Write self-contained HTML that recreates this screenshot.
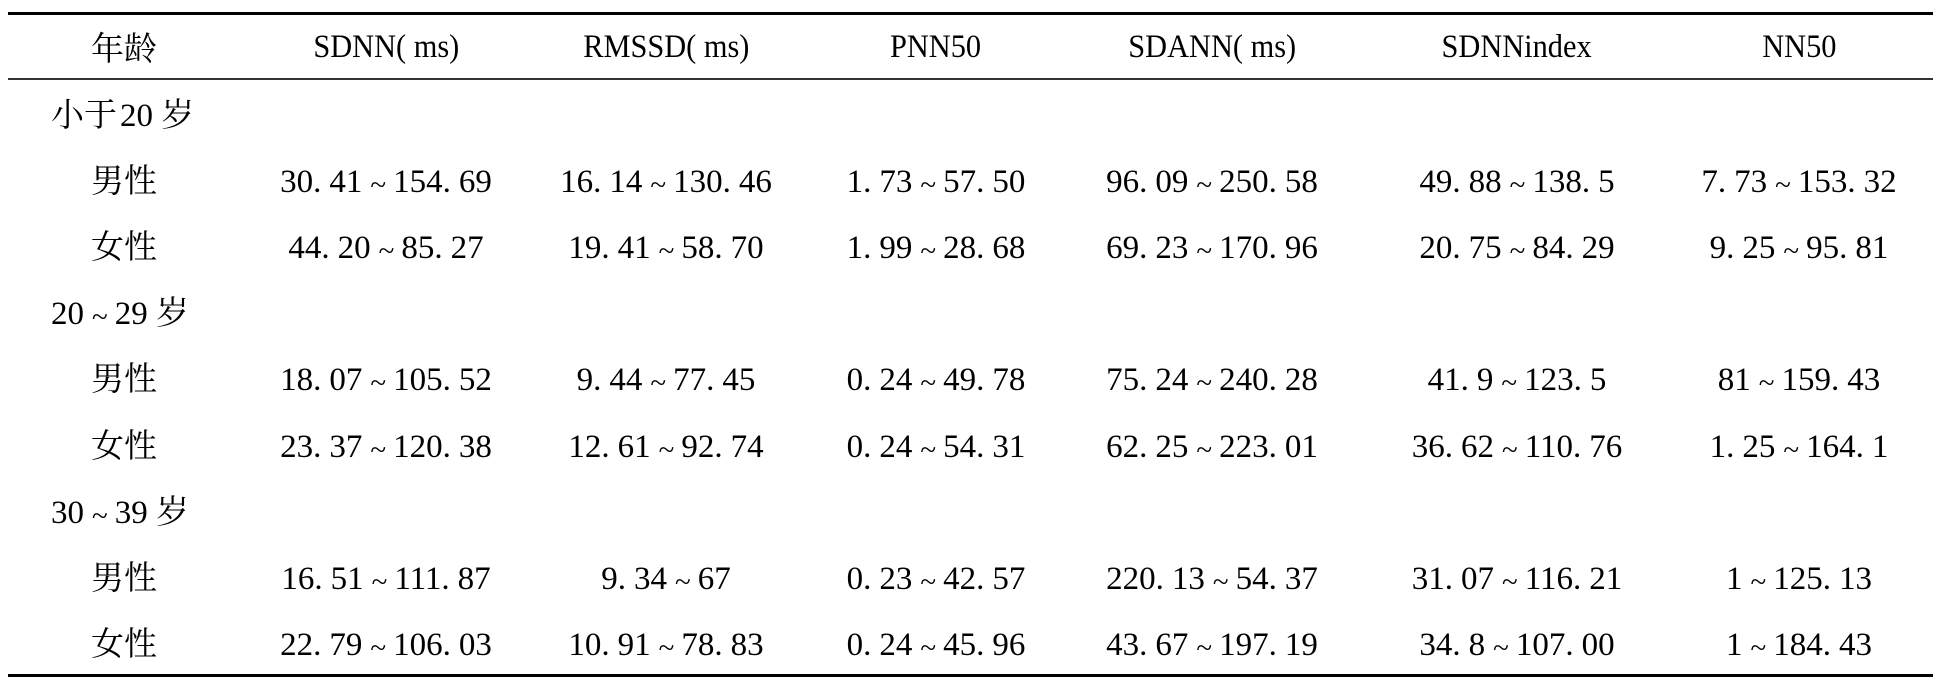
<!DOCTYPE html>
<html>
<head>
<meta charset="utf-8">
<style>
html,body{margin:0;padding:0;background:#fff;}
body{width:1956px;height:687px;position:relative;overflow:hidden;
 font-family:"Liberation Serif","Noto Serif CJK SC","Noto Sans CJK SC",serif;color:#000;font-size:33px;}
.line{position:absolute;left:8px;width:1925px;background:#000;}
.c{position:absolute;width:340px;margin-left:-170px;text-align:center;height:40px;line-height:40px;white-space:nowrap;}
.h span{display:inline-block;transform:scaleX(0.92);transform-origin:50% 50%;}
.g{position:absolute;left:51px;height:40px;line-height:40px;white-space:nowrap;}
.p{padding-right:8px;}
.t{padding:0 7px 0 8px;font-size:29px;position:relative;top:2px;}
.s{padding-left:3px;}
</style>
</head>
<body>
<div class="line" style="top:12px;height:3px;"></div>
<div class="line" style="top:78px;height:2px;background:#333;"></div>
<div class="line" style="top:674px;height:3px;"></div>

<!-- header -->
<div class="c" style="left:124px;top:30px;">年龄</div>
<div class="c h" style="left:386px;top:26.5px;"><span>SDNN( ms)</span></div>
<div class="c h" style="left:666px;top:26.5px;"><span>RMSSD( ms)</span></div>
<div class="c h" style="left:936px;top:26.5px;"><span>PNN50</span></div>
<div class="c h" style="left:1212px;top:26.5px;"><span>SDANN( ms)</span></div>
<div class="c h" style="left:1517px;top:26.5px;"><span>SDNNindex</span></div>
<div class="c h" style="left:1799px;top:26.5px;"><span>NN50</span></div>

<!-- group 1 -->
<div class="g" style="top:95.5px;">小于<span class="s">20</span> 岁</div>

<div class="c" style="left:124px;top:161.7px;">男性</div>
<div class="c" style="left:386px;top:161.7px;">30<span class="p">.</span>41<span class="t">~</span>154<span class="p">.</span>69</div>
<div class="c" style="left:666px;top:161.7px;">16<span class="p">.</span>14<span class="t">~</span>130<span class="p">.</span>46</div>
<div class="c" style="left:936px;top:161.7px;">1<span class="p">.</span>73<span class="t">~</span>57<span class="p">.</span>50</div>
<div class="c" style="left:1212px;top:161.7px;">96<span class="p">.</span>09<span class="t">~</span>250<span class="p">.</span>58</div>
<div class="c" style="left:1517px;top:161.7px;">49<span class="p">.</span>88<span class="t">~</span>138<span class="p">.</span>5</div>
<div class="c" style="left:1799px;top:161.7px;">7<span class="p">.</span>73<span class="t">~</span>153<span class="p">.</span>32</div>

<div class="c" style="left:124px;top:227.9px;">女性</div>
<div class="c" style="left:386px;top:227.9px;">44<span class="p">.</span>20<span class="t">~</span>85<span class="p">.</span>27</div>
<div class="c" style="left:666px;top:227.9px;">19<span class="p">.</span>41<span class="t">~</span>58<span class="p">.</span>70</div>
<div class="c" style="left:936px;top:227.9px;">1<span class="p">.</span>99<span class="t">~</span>28<span class="p">.</span>68</div>
<div class="c" style="left:1212px;top:227.9px;">69<span class="p">.</span>23<span class="t">~</span>170<span class="p">.</span>96</div>
<div class="c" style="left:1517px;top:227.9px;">20<span class="p">.</span>75<span class="t">~</span>84<span class="p">.</span>29</div>
<div class="c" style="left:1799px;top:227.9px;">9<span class="p">.</span>25<span class="t">~</span>95<span class="p">.</span>81</div>

<!-- group 2 -->
<div class="g" style="top:294.1px;">20<span class="t">~</span>29 岁</div>

<div class="c" style="left:124px;top:360.3px;">男性</div>
<div class="c" style="left:386px;top:360.3px;">18<span class="p">.</span>07<span class="t">~</span>105<span class="p">.</span>52</div>
<div class="c" style="left:666px;top:360.3px;">9<span class="p">.</span>44<span class="t">~</span>77<span class="p">.</span>45</div>
<div class="c" style="left:936px;top:360.3px;">0<span class="p">.</span>24<span class="t">~</span>49<span class="p">.</span>78</div>
<div class="c" style="left:1212px;top:360.3px;">75<span class="p">.</span>24<span class="t">~</span>240<span class="p">.</span>28</div>
<div class="c" style="left:1517px;top:360.3px;">41<span class="p">.</span>9<span class="t">~</span>123<span class="p">.</span>5</div>
<div class="c" style="left:1799px;top:360.3px;">81<span class="t">~</span>159<span class="p">.</span>43</div>

<div class="c" style="left:124px;top:426.5px;">女性</div>
<div class="c" style="left:386px;top:426.5px;">23<span class="p">.</span>37<span class="t">~</span>120<span class="p">.</span>38</div>
<div class="c" style="left:666px;top:426.5px;">12<span class="p">.</span>61<span class="t">~</span>92<span class="p">.</span>74</div>
<div class="c" style="left:936px;top:426.5px;">0<span class="p">.</span>24<span class="t">~</span>54<span class="p">.</span>31</div>
<div class="c" style="left:1212px;top:426.5px;">62<span class="p">.</span>25<span class="t">~</span>223<span class="p">.</span>01</div>
<div class="c" style="left:1517px;top:426.5px;">36<span class="p">.</span>62<span class="t">~</span>110<span class="p">.</span>76</div>
<div class="c" style="left:1799px;top:426.5px;">1<span class="p">.</span>25<span class="t">~</span>164<span class="p">.</span>1</div>

<!-- group 3 -->
<div class="g" style="top:492.7px;">30<span class="t">~</span>39 岁</div>

<div class="c" style="left:124px;top:558.9px;">男性</div>
<div class="c" style="left:386px;top:558.9px;">16<span class="p">.</span>51<span class="t">~</span>111<span class="p">.</span>87</div>
<div class="c" style="left:666px;top:558.9px;">9<span class="p">.</span>34<span class="t">~</span>67</div>
<div class="c" style="left:936px;top:558.9px;">0<span class="p">.</span>23<span class="t">~</span>42<span class="p">.</span>57</div>
<div class="c" style="left:1212px;top:558.9px;">220<span class="p">.</span>13<span class="t">~</span>54<span class="p">.</span>37</div>
<div class="c" style="left:1517px;top:558.9px;">31<span class="p">.</span>07<span class="t">~</span>116<span class="p">.</span>21</div>
<div class="c" style="left:1799px;top:558.9px;">1<span class="t">~</span>125<span class="p">.</span>13</div>

<div class="c" style="left:124px;top:625.1px;">女性</div>
<div class="c" style="left:386px;top:625.1px;">22<span class="p">.</span>79<span class="t">~</span>106<span class="p">.</span>03</div>
<div class="c" style="left:666px;top:625.1px;">10<span class="p">.</span>91<span class="t">~</span>78<span class="p">.</span>83</div>
<div class="c" style="left:936px;top:625.1px;">0<span class="p">.</span>24<span class="t">~</span>45<span class="p">.</span>96</div>
<div class="c" style="left:1212px;top:625.1px;">43<span class="p">.</span>67<span class="t">~</span>197<span class="p">.</span>19</div>
<div class="c" style="left:1517px;top:625.1px;">34<span class="p">.</span>8<span class="t">~</span>107<span class="p">.</span>00</div>
<div class="c" style="left:1799px;top:625.1px;">1<span class="t">~</span>184<span class="p">.</span>43</div>
</body>
</html>
